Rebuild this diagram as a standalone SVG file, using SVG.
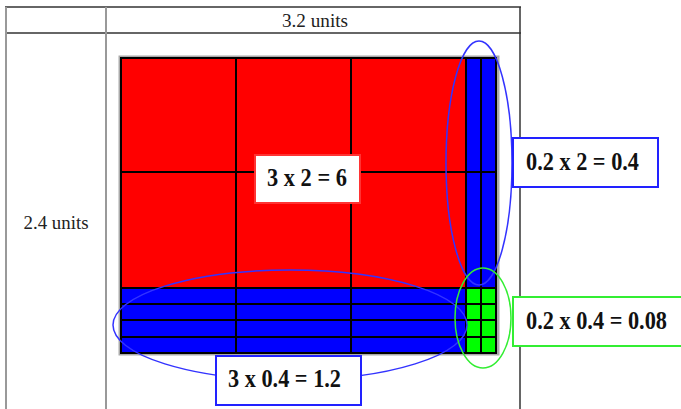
<svg xmlns="http://www.w3.org/2000/svg" width="681" height="409" viewBox="0 0 681 409">
<style>
.tbl{stroke:#333;stroke-width:1.5;fill:none}
.tblg{stroke:#999;stroke-width:2;fill:none}
.hdr{font-family:"Liberation Serif","Times New Roman",serif;font-size:18px;fill:#222}
.lbl{font-family:"Liberation Serif","Times New Roman",serif;font-size:26px;font-weight:bold;fill:#111}
.grid{stroke:#000;stroke-width:2;fill:none}
.box{fill:#fff;stroke-width:2}
</style>
<rect width="681" height="409" fill="#fff"/>
<g id="table">
<line class="tbl" x1="5" y1="7" x2="521" y2="7"/>
<line class="tbl" x1="5" y1="33" x2="521" y2="33"/>
<line class="tblg" x1="6" y1="7" x2="6" y2="409"/>
<line class="tblg" x1="106" y1="7" x2="106" y2="409"/>
<line class="tbl" x1="520" y1="7" x2="520" y2="409"/>
<text class="hdr" x="315" y="27" text-anchor="middle" textLength="66" lengthAdjust="spacingAndGlyphs">3.2 units</text>
<text class="hdr" x="56" y="229" text-anchor="middle" textLength="65" lengthAdjust="spacingAndGlyphs">2.4 units</text>
</g>
<g id="area-model">
<rect x="120" y="57" width="378" height="297" fill="none" stroke="#aaa" stroke-width="3"/>
<rect x="121" y="58" width="345" height="230" fill="#ff0000"/>
<rect x="466" y="58" width="30" height="230" fill="#0000ff"/>
<rect x="121" y="288" width="345" height="65" fill="#0000ff"/>
<rect x="466" y="288" width="30" height="65" fill="#00ff00"/>
<g class="grid">
<line x1="236" y1="58" x2="236" y2="353"/>
<line x1="351" y1="58" x2="351" y2="353"/>
<line x1="466" y1="58" x2="466" y2="353"/>
<line x1="481" y1="58" x2="481" y2="353"/>
<line x1="121" y1="172" x2="496" y2="172"/>
<line x1="121" y1="288" x2="496" y2="288"/>
<line x1="121" y1="304" x2="496" y2="304"/>
<line x1="121" y1="320" x2="496" y2="320"/>
<line x1="121" y1="337" x2="496" y2="337"/>
<rect x="121" y="58" width="375" height="295"/>
</g>
</g>
<g id="connectors">
<ellipse cx="479" cy="163" rx="33" ry="122" fill="none" stroke="#3333ff" stroke-width="1.5"/>
<ellipse cx="290" cy="325" rx="177" ry="55" fill="none" stroke="#3333ff" stroke-width="1.5"/>
<ellipse cx="483" cy="318" rx="28" ry="50" fill="none" stroke="#33ee33" stroke-width="1.5"/>
</g>
<g id="label-red">
<rect class="box" x="255" y="155" width="105" height="48" stroke="#ff3333"/>
<text class="lbl" x="307" y="186" text-anchor="middle" textLength="80" lengthAdjust="spacingAndGlyphs">3 x 2 = 6</text>
</g>
<g id="label-right">
<rect class="box" x="513" y="138" width="145" height="49" stroke="#2222ff"/>
<text class="lbl" x="582.5" y="170" text-anchor="middle" textLength="113" lengthAdjust="spacingAndGlyphs">0.2 x 2 = 0.4</text>
</g>
<g id="label-corner">
<rect class="box" x="513" y="297" width="175" height="49" stroke="#33ee33" stroke-width="2.5"/>
<text class="lbl" x="596.5" y="329" text-anchor="middle" textLength="141" lengthAdjust="spacingAndGlyphs">0.2 x 0.4 = 0.08</text>
</g>
<g id="label-bottom">
<rect class="box" x="216" y="356" width="145" height="49" stroke="#2222ff"/>
<text class="lbl" x="284.5" y="387" text-anchor="middle" textLength="113" lengthAdjust="spacingAndGlyphs">3 x 0.4 = 1.2</text>
</g>
</svg>
